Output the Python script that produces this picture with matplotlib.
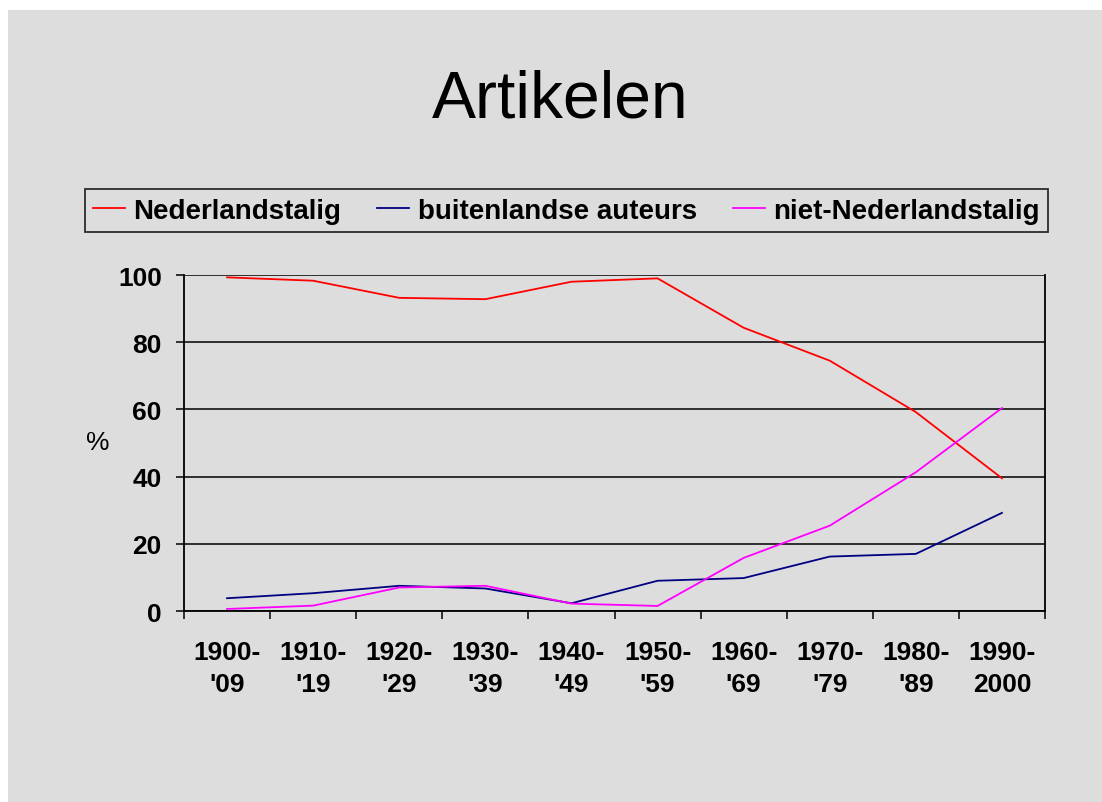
import matplotlib
matplotlib.use("Agg")
import matplotlib.pyplot as plt
import numpy as np
from matplotlib.patches import Rectangle

# --- data ---
periods = ["1900-\n'09", "1910-\n'19", "1920-\n'29", "1930-\n'39", "1940-\n'49",
           "1950-\n'59", "1960-\n'69", "1970-\n'79", "1980-\n'89", "1990-\n2000"]
nederlandstalig = [99.3, 98.3, 93.2, 92.8, 98.0, 99.0, 84.3, 74.5, 59.2, 39.5]
buitenlandse_auteurs = [3.8, 5.3, 7.5, 6.7, 2.3, 9.0, 9.8, 16.2, 17.0, 29.2]
niet_nederlandstalig = [0.6, 1.6, 7.0, 7.5, 2.2, 1.5, 15.8, 25.4, 41.3, 60.4]

series = [
    ("Nederlandstalig", nederlandstalig, "#ff0000"),
    ("buitenlandse auteurs", buitenlandse_auteurs, "#000080"),
    ("niet-Nederlandstalig", niet_nederlandstalig, "#ff00ff"),
]

plt.rcParams["font.family"] = ["Liberation Sans", "DejaVu Sans"]

W, H = 1102, 803
fig = plt.figure(figsize=(W / 100, H / 100), dpi=100)
fig.patch.set_facecolor("white")
bg = "#dddddd"
fig.add_artist(Rectangle((8 / W, 0), 1, 1 - 11 / H, transform=fig.transFigure,
                         facecolor=bg, edgecolor="none", zorder=-10))

ax = fig.add_axes([184 / W, 1 - 612 / H, (1045 - 184) / W, (612 - 276) / H])
ax.set_facecolor(bg)

x = np.arange(len(periods))
for name, vals, col in series:
    ax.plot(x, vals, color=col, lw=1.3, label=name, zorder=3)

ax.set_xlim(-0.5, len(periods) - 0.5)
ax.set_ylim(0, 100)
ax.set_yticks(np.arange(0, 101, 20))
ax.yaxis.grid(True, color="black", lw=1.1)
ax.set_axisbelow(True)

ax.set_xticks(np.arange(-0.5, len(periods)), labels=[])
ax.set_xticks(x, labels=periods, minor=True)
ax.tick_params(axis="x", which="major", direction="out", length=6, width=1.1)
ax.tick_params(axis="x", which="minor", length=0, pad=21, labelsize=19)
ax.tick_params(axis="y", direction="out", length=6, width=1.1, pad=10, labelsize=19)
for lbl in ax.get_xticklabels(minor=True):
    lbl.set_fontweight("bold")
    lbl.set_linespacing(1.4)
for lbl in ax.get_yticklabels():
    lbl.set_fontweight("bold")

for side in ["left", "right", "bottom"]:
    ax.spines[side].set_color("black")
    ax.spines[side].set_linewidth(1.3)
ax.spines["top"].set_visible(False)

fig.text(98 / W, 1 - 443 / H, "%", ha="center", va="center", fontsize=19)
fig.text(560 / W, 1 - 118 / H, "Artikelen", ha="center", va="baseline", fontsize=47.5)

leg = fig.legend(loc="lower left", ncol=3, mode="expand",
                 bbox_to_anchor=(85 / W, 1 - 233 / H, (1048 - 85) / W, (233 - 190) / H),
                 bbox_transform=fig.transFigure, frameon=True, fancybox=False,
                 edgecolor="black", facecolor=bg, borderaxespad=0, borderpad=0.3,
                 handlelength=1.15, handletextpad=0.3, prop={"size": 20, "weight": "bold"})
leg.get_frame().set_linewidth(1.3)

fig.savefig("out.png", dpi=100, facecolor=fig.get_facecolor())
